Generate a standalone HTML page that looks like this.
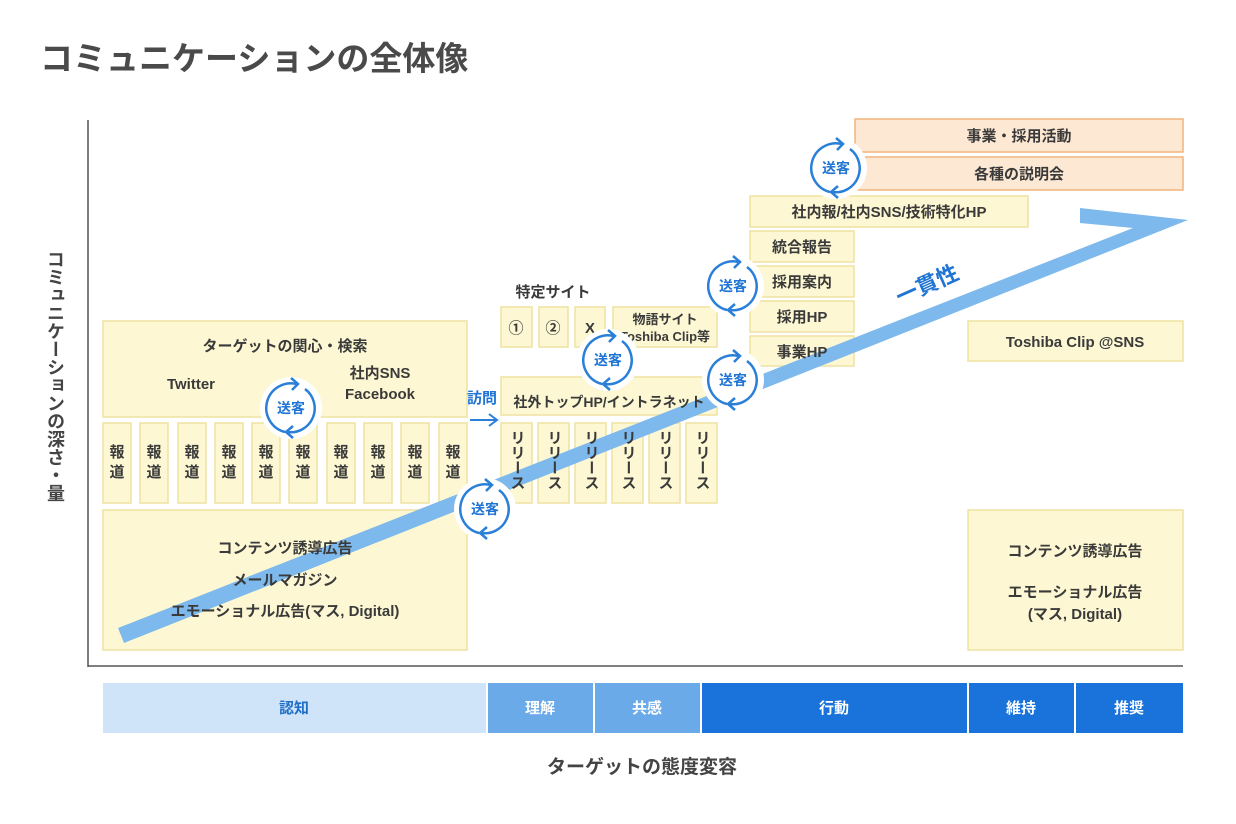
<!DOCTYPE html>
<html><head><meta charset="utf-8"><style>
html,body{margin:0;padding:0;background:#fff;}
svg{display:block}
text{font-family:"Liberation Sans","Noto Sans CJK JP",sans-serif;}
</style></head><body>
<svg width="1236" height="824" viewBox="0 0 1236 824" xmlns="http://www.w3.org/2000/svg">
<defs>
<g id="sk">
<circle r="31" fill="#fff"/>
<path d="M-6,24 A24,24 0 0 1 6,-24" fill="none" stroke="#2a7fd8" stroke-width="2.5"/>
<path d="M0,-30 L7,-24 L1,-18" fill="none" stroke="#2a7fd8" stroke-width="2.5"/>
<path d="M14,-19 A24,24 0 0 1 -4,24" fill="none" stroke="#2a7fd8" stroke-width="2.5"/>
<path d="M2,18 L-5,24 L2,30" fill="none" stroke="#2a7fd8" stroke-width="2.5"/>
</g>
</defs>
<text x="40" y="70" font-size="33" font-weight="bold" fill="#4a4a4a">コミュニケーションの全体像</text>
<line x1="88" y1="120" x2="88" y2="667" stroke="#555" stroke-width="1.5"/>
<line x1="88" y1="666" x2="1183" y2="666" stroke="#555" stroke-width="1.5"/>
<text x="0" y="0" font-size="18" font-weight="bold" fill="#444" transform="translate(55,250)" style="writing-mode:vertical-rl">コミュニケーションの深さ・量</text>

<g fill="#fdf8d3" stroke="#efe2a0" stroke-width="1.5">
<rect x="103" y="321" width="364" height="96"/>
<rect x="103" y="510" width="364" height="140"/>
<rect x="103" y="423" width="28" height="80"/><rect x="140" y="423" width="28" height="80"/><rect x="178" y="423" width="28" height="80"/><rect x="215" y="423" width="28" height="80"/><rect x="252" y="423" width="28" height="80"/><rect x="289" y="423" width="28" height="80"/><rect x="327" y="423" width="28" height="80"/><rect x="364" y="423" width="28" height="80"/><rect x="401" y="423" width="28" height="80"/><rect x="439" y="423" width="28" height="80"/>
<rect x="501" y="307" width="31" height="40"/><rect x="539" y="307" width="29" height="40"/><rect x="575" y="307" width="30" height="40"/><rect x="613" y="307" width="104" height="40"/>
<rect x="501" y="377" width="216" height="38"/>
<rect x="501" y="423" width="31" height="80"/><rect x="538" y="423" width="31" height="80"/><rect x="575" y="423" width="31" height="80"/><rect x="612" y="423" width="31" height="80"/><rect x="649" y="423" width="31" height="80"/><rect x="686" y="423" width="31" height="80"/>
<rect x="750" y="196" width="278" height="31"/>
<rect x="750" y="231" width="104" height="31"/><rect x="750" y="266" width="104" height="31"/><rect x="750" y="301" width="104" height="31"/><rect x="750" y="336" width="104" height="30"/>
<rect x="968" y="321" width="215" height="40"/>
<rect x="968" y="510" width="215" height="140"/>
</g>
<g fill="#fde8d3" stroke="#f0b47c" stroke-width="1.5">
<rect x="855" y="119" width="328" height="33"/><rect x="855" y="157" width="328" height="33"/>
</g>

<polygon points="118,628 1133,228 1080,223 1080,208 1188,220 124,643" fill="#7db9ec"/>

<g font-size="15" font-weight="bold" fill="#3a3a3a" text-anchor="middle">
<text x="285" y="351">ターゲットの関心・検索</text>
<text x="191" y="389">Twitter</text>
<text x="380" y="378">社内SNS</text>
<text x="380" y="399">Facebook</text>
<text x="285" y="553">コンテンツ誘導広告</text>
<text x="285" y="585">メールマガジン</text>
<text x="285" y="616">エモーショナル広告(マス, Digital)</text>
<text x="553" y="297">特定サイト</text>
<text x="516" y="333">①</text><text x="553" y="333">②</text><text x="590" y="333">X</text>
<text x="665" y="324" font-size="13">物語サイト</text>
<text x="665" y="341" font-size="13">Toshiba Clip等</text>
<text x="609" y="407" font-size="14">社外トップHP/イントラネット</text>
<text x="889" y="217">社内報/社内SNS/技術特化HP</text>
<text x="802" y="252">統合報告</text><text x="802" y="287">採用案内</text><text x="802" y="322">採用HP</text><text x="802" y="357">事業HP</text>
<text x="1019" y="141">事業・採用活動</text><text x="1019" y="179">各種の説明会</text>
<text x="1075" y="347">Toshiba Clip @SNS</text>
<text x="1075" y="556">コンテンツ誘導広告</text>
<text x="1075" y="597">エモーショナル広告</text>
<text x="1075" y="619">(マス, Digital)</text>
</g>
<g font-size="15" font-weight="bold" fill="#3a3a3a" text-anchor="middle">
<text x="117" y="457">報</text><text x="117" y="477">道</text>
<text x="154" y="457">報</text><text x="154" y="477">道</text>
<text x="192" y="457">報</text><text x="192" y="477">道</text>
<text x="229" y="457">報</text><text x="229" y="477">道</text>
<text x="266" y="457">報</text><text x="266" y="477">道</text>
<text x="303" y="457">報</text><text x="303" y="477">道</text>
<text x="341" y="457">報</text><text x="341" y="477">道</text>
<text x="378" y="457">報</text><text x="378" y="477">道</text>
<text x="415" y="457">報</text><text x="415" y="477">道</text>
<text x="453" y="457">報</text><text x="453" y="477">道</text>
</g>
<g font-size="15" font-weight="bold" fill="#3a3a3a">
<text x="517" y="430" style="writing-mode:vertical-rl">リリース</text>
<text x="554" y="430" style="writing-mode:vertical-rl">リリース</text>
<text x="591" y="430" style="writing-mode:vertical-rl">リリース</text>
<text x="628" y="430" style="writing-mode:vertical-rl">リリース</text>
<text x="665" y="430" style="writing-mode:vertical-rl">リリース</text>
<text x="702" y="430" style="writing-mode:vertical-rl">リリース</text>
</g>

<text x="0" y="0" font-size="22" font-weight="bold" fill="#1f74d4" transform="translate(900,305) rotate(-24)">一貫性</text>

<text x="467" y="403" font-size="15" font-weight="bold" fill="#1f74d4">訪問</text>
<line x1="470" y1="420" x2="496" y2="420" stroke="#2a7fd8" stroke-width="2"/>
<path d="M489,414 L497,420 L489,426" fill="none" stroke="#2a7fd8" stroke-width="2"/>

<g font-size="14" font-weight="bold" fill="#1f74d4" text-anchor="middle">
<use href="#sk" x="291" y="408"/><text x="291" y="413">送客</text>
<use href="#sk" x="485" y="509"/><text x="485" y="514">送客</text>
<use href="#sk" x="608" y="360"/><text x="608" y="365">送客</text>
<use href="#sk" x="733" y="286"/><text x="733" y="291">送客</text>
<use href="#sk" x="733" y="380"/><text x="733" y="385">送客</text>
<use href="#sk" x="836" y="168"/><text x="836" y="173">送客</text>
</g>

<rect x="103" y="683" width="383" height="50" fill="#cfe4f8"/>
<rect x="488" y="683" width="105" height="50" fill="#6aaae8"/>
<rect x="595" y="683" width="105" height="50" fill="#6aaae8"/>
<rect x="702" y="683" width="265" height="50" fill="#1a73da"/>
<rect x="969" y="683" width="105" height="50" fill="#1a73da"/>
<rect x="1076" y="683" width="107" height="50" fill="#1a73da"/>
<g font-size="15" font-weight="bold" text-anchor="middle" fill="#fff">
<text x="294" y="713" fill="#1f6fc8">認知</text>
<text x="540" y="713">理解</text><text x="647" y="713">共感</text>
<text x="834" y="713">行動</text><text x="1021" y="713">維持</text><text x="1129" y="713">推奨</text>
</g>
<text x="642" y="773" font-size="19" font-weight="bold" fill="#444" text-anchor="middle">ターゲットの態度変容</text>
</svg>
</body></html>
